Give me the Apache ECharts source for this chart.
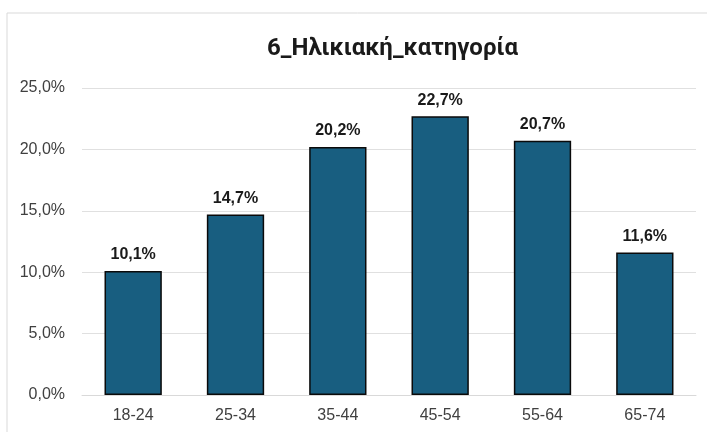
<!DOCTYPE html>
<html>
<head>
<meta charset="utf-8">
<script src="https://cdn.jsdelivr.net/npm/echarts@6/dist/echarts.min.js"></script>
<style>
  html, body { margin: 0; padding: 0; background: #fff; }
  #chart { width: 707px; height: 432px; }
</style>
</head>
<body>
<div id="chart"></div>
<script>
const chartTitle = '6_Ηλικιακή_κατηγορία';
const ageGroups = ['18-24', '25-34', '35-44', '45-54', '55-64', '65-74'];
const shares = [10.1, 14.7, 20.2, 22.7, 20.7, 11.6];

function pct(v) {
  return v.toFixed(1).replace('.', ',') + '%';
}

const myChart = echarts.init(document.getElementById('chart'));

myChart.setOption({
  animation: false,
  textStyle: { fontFamily: 'Liberation Sans' },
  graphic: [
    {
      type: 'rect',
      shape: { x: 7, y: 13, width: 720, height: 440 },
      style: { fill: 'none', stroke: '#d9d9d9', lineWidth: 1 },
      silent: true
    }
  ],
  title: {
    text: chartTitle,
    left: 262,
    top: 32,
    textStyle: {
      fontFamily: 'Roboto',
      fontSize: 24,
      fontWeight: 'bold',
      color: '#1a1a1a'
    }
  },
  grid: {
    left: 82,
    right: 11,
    top: 88,
    bottom: 37
  },
  xAxis: {
    type: 'category',
    data: ageGroups,
    axisLine: { show: true, lineStyle: { color: '#d9d9d9' } },
    axisTick: { show: false },
    axisLabel: { color: '#404040', fontSize: 16, margin: 13 }
  },
  yAxis: {
    type: 'value',
    min: 0,
    max: 25,
    interval: 5,
    axisLine: { show: false },
    axisTick: { show: false },
    axisLabel: { color: '#404040', fontSize: 16, margin: 17, formatter: pct },
    splitLine: { lineStyle: { color: '#e0e0e0', width: 1 } }
  },
  series: [
    {
      type: 'bar',
      data: shares,
      barWidth: '56%',
      itemStyle: {
        color: '#185e80',
        borderColor: '#0a0a0a',
        borderWidth: 1.5
      },
      label: {
        show: true,
        position: 'top',
        distance: 8,
        fontSize: 16,
        fontWeight: 'bold',
        color: '#1a1a1a',
        formatter: p => pct(p.value)
      }
    }
  ]
});
</script>
</body>
</html>
